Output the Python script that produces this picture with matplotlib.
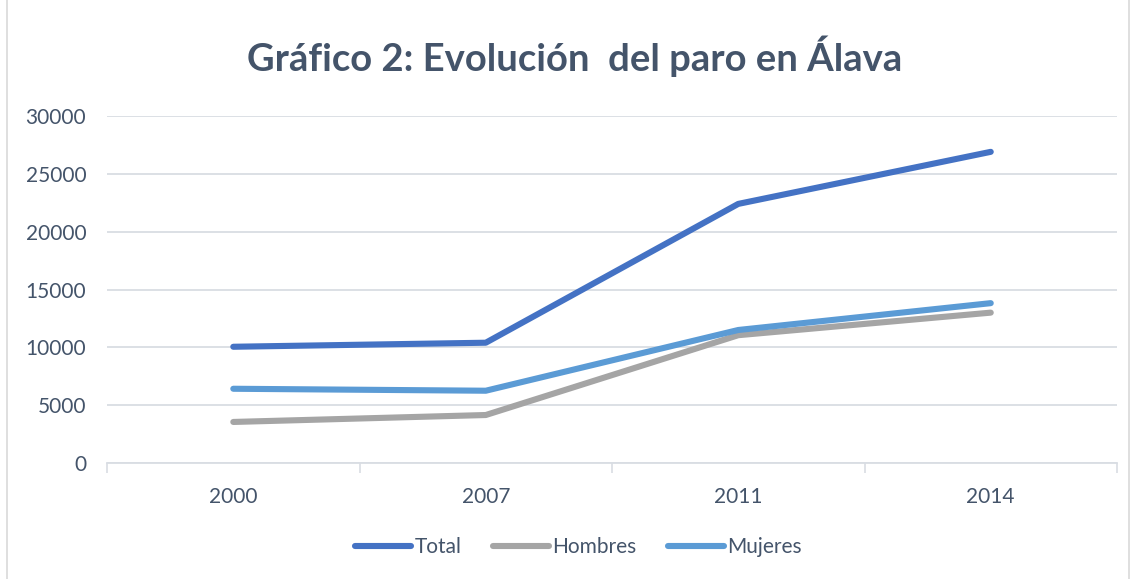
import matplotlib.pyplot as plt
from matplotlib.patches import Rectangle

years = ['2000', '2007', '2011', '2014']
total = [10050, 10400, 22400, 26900]
hombres = [3550, 4150, 11050, 13000]
mujeres = [6420, 6250, 11500, 13820]

series = [
    ('Total', total, '#4472C4'),
    ('Hombres', hombres, '#A5A5A5'),
    ('Mujeres', mujeres, '#5B9BD5'),
]

text_color = '#44546A'
plt.rcParams['font.family'] = ['Lato', 'DejaVu Sans']

fig = plt.figure(figsize=(11.34, 5.79), dpi=100)
ax = fig.add_axes([0.0944, 0.2003, 0.8906, 0.5994])

x = range(len(years))
for name, vals, col in series:
    ax.plot(x, vals, color=col, linewidth=4.4, solid_capstyle='round',
            solid_joinstyle='round', label=name)

ax.set_xlim(-0.5, len(years) - 0.5)
ax.set_ylim(0, 30000)
ax.set_yticks(range(0, 30001, 5000))
ax.grid(axis='y', color='#D9DDE3', linewidth=1.3)
ax.set_axisbelow(True)

# category axis: labels centred, tick marks between categories
ax.set_xticks(list(x))
ax.set_xticklabels(years)
ax.set_xticks([i - 0.5 for i in range(len(years) + 1)], minor=True)
ax.tick_params(axis='x', which='major', length=0, pad=17,
               labelsize=15, labelcolor=text_color)
ax.tick_params(axis='x', which='minor', length=7, width=1.2, color='#D9DDE3')
ax.tick_params(axis='y', length=0, pad=15, labelsize=15, labelcolor=text_color)

for s in ['top', 'right', 'left']:
    ax.spines[s].set_visible(False)
ax.spines['bottom'].set_color('#D9DDE3')
ax.spines['bottom'].set_linewidth(1.3)

fig.text(0.507, 0.903, 'Gráfico 2: Evolución  del paro en Álava',
         ha='center', va='center', fontsize=27.5, fontweight='bold',
         color=text_color)

fig.legend(loc='center', bbox_to_anchor=(0.51, 0.055), ncol=3, frameon=False,
           fontsize=15, labelcolor=text_color, handlelength=2.7,
           handletextpad=0.15, columnspacing=1.5)

# chart border
fig.patches.append(Rectangle((0.006, -0.01), 0.99, 1.02, transform=fig.transFigure,
                             fill=False, edgecolor='#D9D9D9', linewidth=1.2))

fig.savefig('out.png', dpi=100)
